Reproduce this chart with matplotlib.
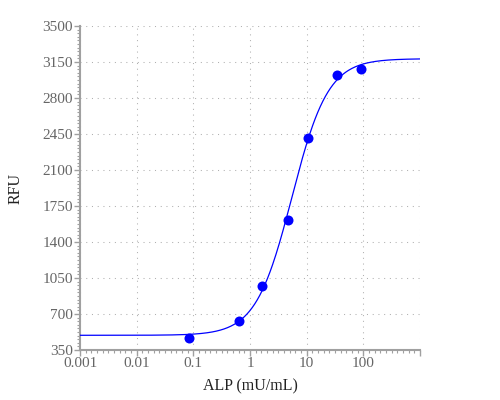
import numpy as np
import matplotlib
matplotlib.use("Agg")
import matplotlib.pyplot as plt
from matplotlib.ticker import FixedLocator, LogLocator, MultipleLocator, NullFormatter

# measured standards
alp = [0.083, 0.63, 1.63, 4.68, 10.4, 34.7, 91]
rfu = [470, 632, 975, 1611, 2414, 3020, 3081]

# 4PL fit parameters
bottom, top, ec50, hill = 493, 3182, 5.5, 1.36

x_ticks = [0.001, 0.01, 0.1, 1, 10, 100, 1000]
x_labels = ["0.001", "0.01", "0.1", "1", "10", "100", ""]
y_ticks = [350, 700, 1050, 1400, 1750, 2100, 2450, 2800, 3150, 3500]

plt.rcParams["font.family"] = ["Liberation Serif", "DejaVu Serif"]

fig = plt.figure(figsize=(5, 4), dpi=100)
ax = fig.add_axes([0.16, 0.125, 0.68, 0.81])

xs = np.logspace(-3, 3, 400)
curve = bottom + (top - bottom) / (1 + (ec50 / xs) ** hill)
ax.plot(xs, curve, color="#0000ff", lw=0.9, zorder=3)
ax.plot(alp, rfu, "o", color="#0000ff", ms=7.2, mec="none", zorder=4)

ax.set_xscale("log")
ax.set_xlim(0.001, 1000)
ax.set_ylim(350, 3500)
ax.xaxis.set_major_locator(FixedLocator(x_ticks))
ax.set_xticklabels(x_labels)
# minor ticks evenly spaced along the log axis, 10 per decade
ax.xaxis.set_minor_locator(LogLocator(base=10, subs=10 ** (np.arange(1, 10) / 10)))
ax.xaxis.set_minor_formatter(NullFormatter())
ax.set_yticks(y_ticks)
ax.yaxis.set_minor_locator(MultipleLocator(35))

for s in ["top", "right"]:
    ax.spines[s].set_visible(False)
for s in ["left", "bottom"]:
    ax.spines[s].set_color("#a0a0a0")
    ax.spines[s].set_linewidth(1.5)

ax.tick_params(which="major", length=4, width=1, color="#a0a0a0",
               labelcolor="#666666", labelsize=11, pad=1)
ax.tick_params(which="minor", length=2, width=0.8, color="#a0a0a0")

ax.grid(True, which="major", color="#b0b0b0", lw=0.75, linestyle=(0, (1, 4.5)))

ax.set_xlabel("ALP (mU/mL)", fontsize=11.5, color="#222222", labelpad=6)
ax.set_ylabel("RFU", fontsize=11.5, color="#222222", labelpad=14)

fig.savefig("out.png", dpi=100)
